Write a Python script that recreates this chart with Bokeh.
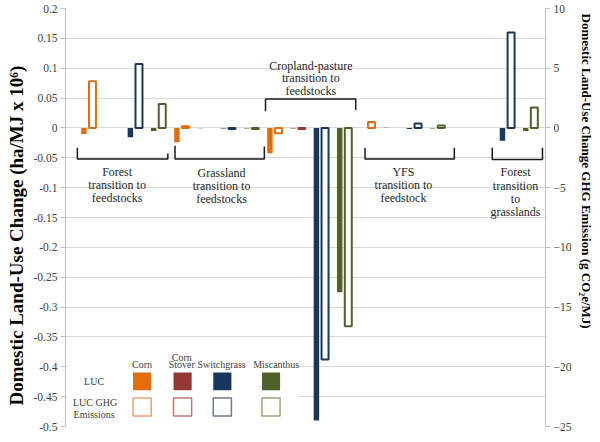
from bokeh.plotting import figure
from bokeh.models import (Range1d, LinearAxis, FixedTicker, NumeralTickFormatter,
                          ColumnDataSource, BoxAnnotation, Label, Title)
from bokeh.embed import file_html
from bokeh.resources import INLINE

# ---------------- data ----------------
transitions = ["Forest transition to feedstocks", "Grassland transition to feedstocks",
               "Cropland-pasture transition to feedstocks", "YFS transition to feedstock",
               "Forest transition to grasslands"]
feedstocks = ["Corn", "Corn Stover", "Switchgrass", "Miscanthus"]

# land-use change, ha/MJ x 10^6 (left axis)
luc = [-0.010, 0.0, -0.0156, -0.005,
       -0.024, -0.0005, -0.001, -0.001,
       -0.0425, -0.001, -0.490, -0.275,
       0.0, 0.0005, -0.002, -0.001,
       0.0, 0.0, -0.0216, -0.005]
# LUC GHG emission, g CO2e/MJ (right axis)
ghg = [3.9, 0.0, 5.35, 2.0,
       0.15, 0.0, -0.1, -0.1,
       -0.45, -0.1, -19.4, -16.6,
       0.5, 0.0, 0.37, 0.2,
       0.0, 0.0, 8.0, 1.72]

left_ticks = [0.2, 0.15, 0.1, 0.05, 0, -0.05, -0.1, -0.15, -0.2, -0.25, -0.3,
              -0.35, -0.4, -0.45, -0.5]
right_ticks = [10, 5, 0, -5, -10, -15, -20, -25]

left_title = "Domestic Land-Use Change (ha/MJ x 10\u2076)"
right_title = "Domestic Land-Use Change GHG  Emission (g CO\u2082e/MJ)"

# ---------------- styles ----------------
fill_colors = {"Corn": "#E46C0A", "Corn Stover": "#953735",
               "Switchgrass": "#17375E", "Miscanthus": "#4F6228"}
light_colors = {"Corn": "#F0A070", "Corn Stover": "#C07878",
                "Switchgrass": "#6A7A98", "Miscanthus": "#98A878"}
FONT = "Liberation Serif"
GHG_OFFSET = 0.37

n = len(luc)
idx = list(range(n))
feed = [feedstocks[i % len(feedstocks)] for i in idx]

luc_keep = [i for i in idx if luc[i] != 0]
ghg_keep = [i for i in idx if ghg[i] != 0]
luc_src = ColumnDataSource(dict(x=[i for i in luc_keep],
                                top=[luc[i] for i in luc_keep],
                                color=[fill_colors[feed[i]] for i in luc_keep]))
ghg_src = ColumnDataSource(dict(x=[i + GHG_OFFSET for i in ghg_keep],
                                top=[ghg[i] for i in ghg_keep],
                                color=[fill_colors[feed[i]] for i in ghg_keep]))

p = figure(width=600, height=440, output_backend="svg", toolbar_location=None,
           x_range=Range1d(-0.79, 19.85), y_range=Range1d(-0.5, 0.2),
           min_border_left=63, min_border_right=54, min_border_top=8,
           min_border_bottom=14)
p.extra_y_ranges = {"ghg": Range1d(-25, 10)}
p.outline_line_color = None
p.background_fill_color = "white"
p.border_fill_color = "white"
p.xaxis.visible = False
p.xgrid.visible = False
p.ygrid.ticker = FixedTicker(ticks=left_ticks)
p.ygrid.grid_line_color = "#D9D9D9"
p.ygrid.grid_line_width = 1

ya = p.yaxis[0]
ya.ticker = FixedTicker(ticks=left_ticks)
ya.formatter = NumeralTickFormatter(format="0.[00]")

ra = LinearAxis(y_range_name="ghg", ticker=FixedTicker(ticks=right_ticks))
p.add_layout(ra, "right")

for ax in (ya, ra):
    ax.major_label_text_font = FONT
    ax.major_label_text_font_size = "11.5px"
    ax.major_label_text_color = "#404040"
    ax.major_label_standoff = 3
    ax.major_tick_out = 5
    ax.major_tick_in = 0
    ax.minor_tick_out = 0
    ax.minor_tick_in = 0
    ax.axis_line_color = "#BFBFBF"
    ax.major_tick_line_color = "#BFBFBF"

# axis titles, off-centre like the original
p.add_layout(Title(text=left_title, align="left", offset=21, standoff=7,
                   text_font=FONT, text_font_size="19px", text_font_style="bold",
                   text_color="#000000"), "left")
p.add_layout(Title(text=right_title, align="left", offset=5, standoff=9,
                   text_font=FONT, text_font_size="13px", text_font_style="bold",
                   text_color="#000000"), "right")


def lab(x, y, text, size, color="#262626"):
    p.add_layout(Label(x=x, y=y, text=text, text_font=FONT, text_font_size=size,
                       text_color=color, text_align="center", text_baseline="middle"))


# legend background (covers gridlines)
p.add_layout(BoxAnnotation(left=-0.705, right=9.21, top=-0.361, bottom=-0.497,
                           fill_color="white", fill_alpha=1.0, line_color=None,
                           level="underlay"))

# bars
p.vbar(x="x", top="top", bottom=0, width=0.235, source=luc_src,
       fill_color="color", line_color=None)
p.vbar(x="x", top="top", bottom=0, width=0.30, source=ghg_src,
       fill_color="white", line_color="color", line_width=2, y_range_name="ghg")

# group brackets
br_xs = [[-0.28, -0.28, 3.61, 3.61], [3.92, 3.92, 7.76, 7.76],
         [7.81, 7.81, 11.69, 11.69], [12.09, 12.09, 15.93, 15.93],
         [17.56, 17.56, 19.72, 19.72]]
br_ys = [[-0.033, -0.052, -0.052, -0.043], [-0.030, -0.052, -0.052, -0.031],
         [0.028, 0.0484, 0.0484, 0.030], [-0.033, -0.052, -0.052, -0.033],
         [-0.033, -0.053, -0.053, -0.033]]
p.multi_line(xs=br_xs, ys=br_ys, line_color="#1A1A1A", line_width=1.5)

# group captions
cap_x = [1.43, 5.92, 9.76, 13.74, 18.56]
cap_y0 = [-0.0733, -0.075, 0.1042, -0.0733, -0.0745]
cap_step = [0.0218, 0.0218, 0.0209, 0.0218, 0.0222]
cap_lines = [["Forest", "transition to", "feedstocks"],
             ["Grassland", "transition to", "feedstocks"],
             ["Cropland-pasture", "transition to", "feedstocks"],
             ["YFS", "transition to", "feedstock"],
             ["Forest", "transition", "to", "grasslands"]]
for g, lines in enumerate(cap_lines):
    for k, s in enumerate(lines):
        lab(cap_x[g], cap_y0[g] - k * cap_step[g], s, "12px")

# legend table
sw_left = [2.115, 3.855, 5.564, 7.658]
sw_w = 0.78
row_top = [-0.4094, -0.4523]
row_h = 0.0300
p.quad(left=sw_left, right=[a + sw_w for a in sw_left], top=[row_top[0]] * 4,
       bottom=[row_top[0] - row_h] * 4,
       fill_color=[fill_colors[f] for f in feedstocks], line_color=None)
p.quad(left=sw_left, right=[a + sw_w for a in sw_left], top=[row_top[1]] * 4,
       bottom=[row_top[1] - row_h] * 4, fill_color="white",
       line_color=[light_colors[f] for f in feedstocks], line_width=1.5)

hx = [2.5, 4.21, 4.21, 5.92, 8.27]
hy = [-0.3966, -0.3843, -0.3966, -0.3966, -0.3966]
ht = ["Corn", "Corn", "Stover", "Switchgrass", "Miscanthus"]
for x, y, t in zip(hx, hy, ht):
    lab(x, y, t, "10px", "#404040")
rx = [0.44, 0.48, 0.44]
ry = [-0.4245, -0.4597, -0.4791]
rt = ["LUC", "LUC GHG", "Emissions"]
for x, y, t in zip(rx, ry, rt):
    lab(x, y, t, "10px", "#404040")

open("out.html", "w").write(file_html(p, INLINE))
